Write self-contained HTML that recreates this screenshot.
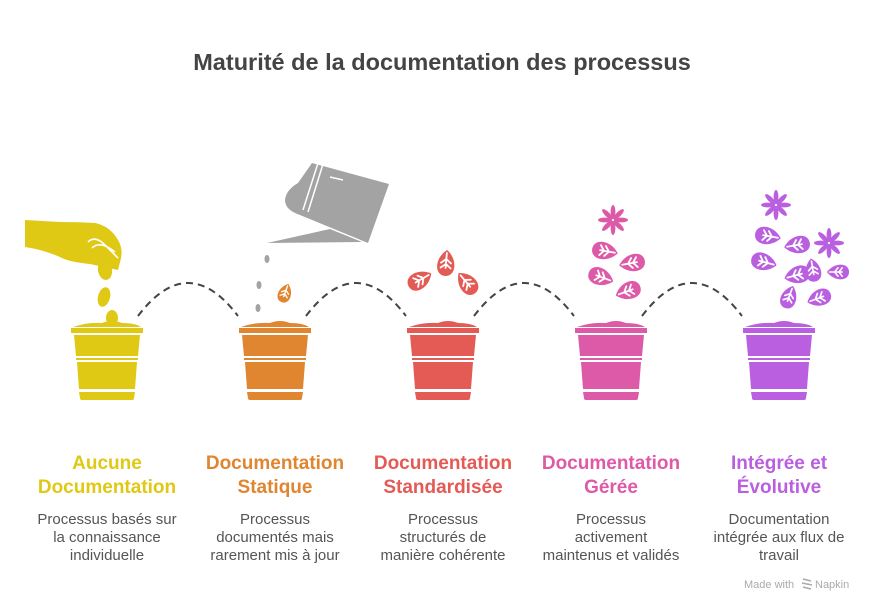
<!DOCTYPE html>
<html><head><meta charset="utf-8"><style>
body{margin:0;background:#fff;}
svg{display:block;font-family:"Liberation Sans",Arial,sans-serif;}
</style></head><body>
<svg width="876" height="612" viewBox="0 0 876 612" xmlns="http://www.w3.org/2000/svg">
<defs>
<g id="pot">
  <path d="M-34,-6 Q-20,-11 -5,-10 Q5,-14 15,-10 Q28,-10 34,-6 Z"/>
  <rect x="-36" y="-5" width="72" height="5"/>
  <path d="M-33,2 L33,2 L31,23 L-31,23 Z"/>
  <path d="M-31,25 L31,25 L31,27 L-31,27 Z"/>
  <path d="M-30,29 L30,29 L28,56 L-28,56 Z"/>
  <path d="M-28,59 L28,59 L27,65 Q27,67 25,67 L-25,67 Q-27,67 -27,65 Z"/>
</g>
<g id="leaf">
  <path d="M-13,0 C-13,-11 4,-12 13,0 C4,12 -13,11 -13,0Z"/>
  <path d="M-5,0 L10,0 M-1,0 L-5,-5 M-1,0 L-5,5 M4,0 L0,-5 M4,0 L0,5" stroke="#fff" stroke-width="1.8" fill="none" stroke-linecap="round"/>
</g>
<g id="flower">
  <ellipse cx="0" cy="-8" rx="2.4" ry="7"/>
  <ellipse cx="0" cy="-8" rx="2.4" ry="7" transform="rotate(45)"/>
  <ellipse cx="0" cy="-8" rx="2.4" ry="7" transform="rotate(90)"/>
  <ellipse cx="0" cy="-8" rx="2.4" ry="7" transform="rotate(135)"/>
  <ellipse cx="0" cy="-8" rx="2.4" ry="7" transform="rotate(180)"/>
  <ellipse cx="0" cy="-8" rx="2.4" ry="7" transform="rotate(225)"/>
  <ellipse cx="0" cy="-8" rx="2.4" ry="7" transform="rotate(270)"/>
  <ellipse cx="0" cy="-8" rx="2.4" ry="7" transform="rotate(315)"/>
</g>
</defs>

<text x="442" y="70" text-anchor="middle" font-size="23.5" font-weight="bold" fill="#444">Maturité de la documentation des processus</text>

<g fill="none" stroke="#444" stroke-width="2" stroke-dasharray="7,5">
  <path d="M138,316 Q188,250 238,316"/>
  <path d="M306,316 Q356,250 406,316"/>
  <path d="M474,316 Q524,250 574,316"/>
  <path d="M642,316 Q692,250 742,316"/>
</g>

<use href="#pot" x="107" y="333" fill="#DFC914"/>
<use href="#pot" x="275" y="333" fill="#E08530"/>
<use href="#pot" x="443" y="333" fill="#E45A55"/>
<use href="#pot" x="611" y="333" fill="#DD5AA8"/>
<use href="#pot" x="779" y="333" fill="#B95FE0"/>

<!-- hand -->
<g fill="#DFC914">
  <path d="M25,220 L60,222 Q80,222 95,223 Q110,226 118,240 Q124,250 120,262 L118,270 L90,264 Q70,262 62,258 Q45,250 25,247 Z"/>
  <ellipse cx="105" cy="270" rx="7" ry="10" transform="rotate(-10 105 270)"/>
  <ellipse cx="104" cy="297" rx="6" ry="10" transform="rotate(15 104 297)"/>
  <ellipse cx="112" cy="318" rx="6" ry="8"/>
</g>
<path d="M88,242 Q95,235 105,245 L118,258 M92,248 Q100,240 115,252" stroke="#fff" stroke-width="1.6" fill="none"/>

<!-- watering can -->
<g fill="#A3A3A3">
  <path d="M312,163 L389,184 L368,243 L300,215 Q285,210 285,200 Q286,190 298,183 Z"/>
  <path d="M267,243 L330,229 L362,242 Z"/>
</g>
<path d="M318,163 L303,210 M323,164 L308,212" stroke="#fff" stroke-width="1.5"/>
<path d="M330,177 L343,180" stroke="#fff" stroke-width="1.5"/>
<g fill="#A3A3A3">
  <ellipse cx="267" cy="259" rx="2.5" ry="4"/>
  <ellipse cx="259" cy="285" rx="2.5" ry="4"/>
  <ellipse cx="258" cy="308" rx="2.5" ry="4"/>
</g>
<use href="#leaf" transform="translate(285,293) rotate(-70) scale(0.75)" fill="#E08530"/>

<g fill="#E45A55">
  <use href="#leaf" transform="translate(420,280) rotate(-30)"/>
  <use href="#leaf" transform="translate(446,263) rotate(-85)"/>
  <use href="#leaf" transform="translate(467,283) rotate(-130)"/>
</g>

<g fill="#DD5AA8">
  <use href="#flower" transform="translate(613,220)"/>
  <use href="#leaf" transform="translate(605,251) rotate(10)"/>
  <use href="#leaf" transform="translate(632,263) rotate(170)"/>
  <use href="#leaf" transform="translate(601,277) rotate(20)"/>
  <use href="#leaf" transform="translate(628,291) rotate(160)"/>
</g>

<g fill="#B95FE0">
  <use href="#flower" transform="translate(776,205)"/>
  <use href="#flower" transform="translate(829,243)"/>
  <use href="#leaf" transform="translate(768,236) rotate(10)"/>
  <use href="#leaf" transform="translate(797,245) rotate(170)"/>
  <use href="#leaf" transform="translate(764,262) rotate(15)"/>
  <use href="#leaf" transform="translate(797,275) rotate(165)"/>
  <use href="#leaf" transform="translate(813,270) rotate(-100) scale(0.9)"/>
  <use href="#leaf" transform="translate(838,272) rotate(180) scale(0.85)"/>
  <use href="#leaf" transform="translate(789,297) rotate(-70) scale(0.9)"/>
  <use href="#leaf" transform="translate(819,298) rotate(160) scale(0.95)"/>
</g>

<g font-size="19" font-weight="bold" text-anchor="middle">
  <text x="107" y="469" fill="#DFC914">Aucune</text>
  <text x="107" y="493" fill="#DFC914">Documentation</text>
  <text x="275" y="469" fill="#E08530">Documentation</text>
  <text x="275" y="493" fill="#E08530">Statique</text>
  <text x="443" y="469" fill="#E45A55">Documentation</text>
  <text x="443" y="493" fill="#E45A55">Standardisée</text>
  <text x="611" y="469" fill="#DD5AA8">Documentation</text>
  <text x="611" y="493" fill="#DD5AA8">Gérée</text>
  <text x="779" y="469" fill="#B95FE0">Intégrée et</text>
  <text x="779" y="493" fill="#B95FE0">Évolutive</text>
</g>
<g font-size="15" text-anchor="middle" fill="#555">
  <text x="107" y="524">Processus basés sur</text>
  <text x="107" y="542">la connaissance</text>
  <text x="107" y="560">individuelle</text>
  <text x="275" y="524">Processus</text>
  <text x="275" y="542">documentés mais</text>
  <text x="275" y="560">rarement mis à jour</text>
  <text x="443" y="524">Processus</text>
  <text x="443" y="542">structurés de</text>
  <text x="443" y="560">manière cohérente</text>
  <text x="611" y="524">Processus</text>
  <text x="611" y="542">activement</text>
  <text x="611" y="560">maintenus et validés</text>
  <text x="779" y="524">Documentation</text>
  <text x="779" y="542">intégrée aux flux de</text>
  <text x="779" y="560">travail</text>
</g>
<text x="744" y="588" font-size="11" fill="#aaa">Made with</text>
<path d="M803,579 L811,581 M802,583 L812,585 M803,587 L811,589" stroke="#aaa" stroke-width="1.5"/>
<text x="815" y="588" font-size="11" fill="#aaa">Napkin</text>
</svg>
</body></html>
